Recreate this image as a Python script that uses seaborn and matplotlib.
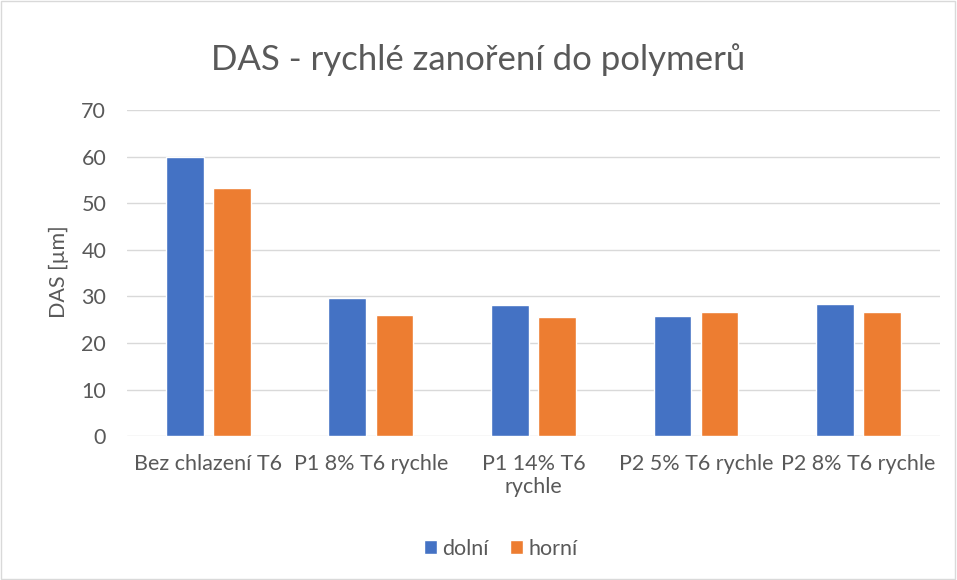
import pandas as pd
import seaborn as sns
import matplotlib.pyplot as plt
from matplotlib.patches import Rectangle

# Data
categories = ["Bez chlazení T6", "P1 8% T6 rychle", "P1 14% T6\nrychle",
              "P2 5% T6 rychle", "P2 8% T6 rychle"]
dolni = [60.0, 29.6, 28.1, 25.8, 28.3]
horni = [53.2, 26.1, 25.5, 26.6, 26.6]
series = ["dolní", "horní"]
colors = ["#4472C4", "#ED7D31"]

df = pd.DataFrame({
    "kategorie": categories * 2,
    "DAS": dolni + horni,
    "serie": [series[0]] * len(categories) + [series[1]] * len(categories),
})

sns.set_style("white")
plt.rcParams["font.family"] = ["Lato", "DejaVu Sans"]
text_color = "#595959"

fig = plt.figure(figsize=(9.57, 5.8), dpi=100)
ax = fig.add_axes([0.1327, 0.248, 0.8493, 0.562])

sns.barplot(data=df, x="kategorie", y="DAS", hue="serie", palette=colors,
            width=0.58, gap=0.2, saturation=1, ax=ax, legend=True)

ax.set_ylim(0, 70)
ax.set_yticks(range(0, 71, 10))
ax.yaxis.grid(True, color="#d9d9d9", linewidth=1)
ax.set_axisbelow(True)
for s in ax.spines.values():
    s.set_visible(False)
ax.tick_params(axis="both", length=0, labelsize=15.5, colors=text_color)
ax.tick_params(axis="x", pad=13)
ax.tick_params(axis="y", pad=15)
ax.set_xlabel("")
ax.set_ylabel("DAS [µm]", fontsize=15.5, color=text_color)
# ylabel right edge near x=69 px
fig.text(69 / 957, 0.531, "DAS [µm]", rotation=90, ha="right", va="center",
         fontsize=15.5, color=text_color)
ax.set_ylabel("")

fig.suptitle("DAS - rychlé zanoření do polymerů", y=0.925, fontsize=25,
             color=text_color)

ax.legend(loc="center", bbox_to_anchor=(0.46, -0.345), ncol=2, frameon=False,
          fontsize=15.5, labelcolor=text_color, handlelength=0.6,
          handleheight=0.6, handletextpad=0.25, columnspacing=1.0)

fig.add_artist(Rectangle((0.001, 0.001), 0.997, 0.997, transform=fig.transFigure,
                         fill=False, edgecolor="#d9d9d9", linewidth=1))

plt.savefig("out.png", dpi=100)
plt.close()
